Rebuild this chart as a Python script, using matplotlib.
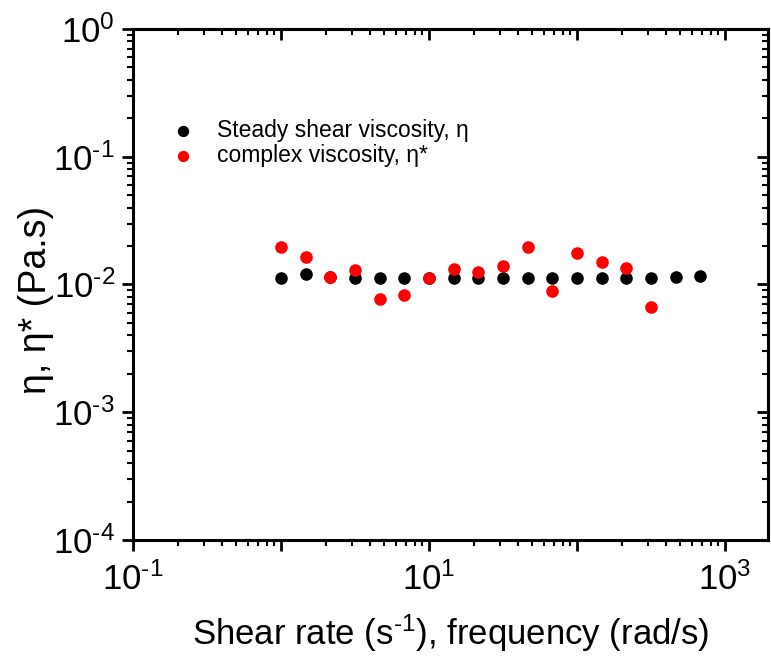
import math
import matplotlib
matplotlib.use("Agg")
import matplotlib.pyplot as plt
from matplotlib.ticker import LogLocator, FuncFormatter, NullFormatter

plt.rcParams['font.family'] = ['Liberation Sans', 'DejaVu Sans']
plt.rcParams['mathtext.fontset'] = 'custom'
plt.rcParams['mathtext.rm'] = 'Liberation Sans'
plt.rcParams['mathtext.it'] = 'Liberation Sans:italic'
plt.rcParams['mathtext.default'] = 'regular'

# Data
shear_rate = [1.0, 1.468, 2.154, 3.162, 4.642, 6.813, 10.0, 14.68, 21.54, 31.62,
              46.42, 68.13, 100.0, 146.8, 215.4, 316.2, 464.2, 681.3]
steady_eta = [0.0113, 0.0120, 0.0114, 0.0112, 0.0112, 0.0112, 0.0112, 0.0112, 0.0112,
              0.0112, 0.0112, 0.0112, 0.0113, 0.0112, 0.0112, 0.0113, 0.0114, 0.0117]
frequency = [1.0, 1.468, 2.154, 3.162, 4.642, 6.813, 10.0, 14.68, 21.54, 31.62,
             46.42, 68.13, 100.0, 146.8, 215.4, 316.2]
complex_eta = [0.0198, 0.0163, 0.0115, 0.0130, 0.00774, 0.00823, 0.0112, 0.0131, 0.0125,
               0.0140, 0.0198, 0.00889, 0.0175, 0.0151, 0.0134, 0.0067]


def sup(e):
    if e < 0:
        return r'$10^{\text{-%d}}$' % (-e)
    return r'$10^{%d}$' % e


fig = plt.figure(figsize=(7.71, 6.57), dpi=100)
ax = fig.add_axes([0.1725, 0.178, 0.8235, 0.778])

ax.scatter(shear_rate, steady_eta, s=82, color='black', label='Steady shear viscosity, η',
           zorder=3, linewidths=0)
ax.scatter(frequency, complex_eta, s=82, color='#ff0000', label='complex viscosity, η*',
           zorder=4, linewidths=0)

ax.set_xscale('log')
ax.set_yscale('log')
ax.set_xlim(0.1, 1950)
ax.set_ylim(1e-4, 1)

ax.xaxis.set_major_locator(LogLocator(base=10, numticks=20))
ax.xaxis.set_minor_locator(LogLocator(base=10, subs=range(2, 10), numticks=20))


def xfmt(v, pos):
    e = int(round(math.log10(v)))
    if e % 2 == 0:
        return ''
    return sup(e)


ax.xaxis.set_major_formatter(FuncFormatter(xfmt))
ax.xaxis.set_minor_formatter(NullFormatter())

ax.yaxis.set_major_locator(LogLocator(base=10, numticks=20))
ax.yaxis.set_minor_locator(LogLocator(base=10, subs=range(2, 10), numticks=20))
ax.yaxis.set_major_formatter(FuncFormatter(lambda v, p: sup(int(round(math.log10(v))))))
ax.yaxis.set_minor_formatter(NullFormatter())

for s in ax.spines.values():
    s.set_linewidth(2.2)

ax.tick_params(which='major', direction='out', length=8, width=2, labelsize=25, pad=5)
ax.tick_params(axis='x', which='major', pad=8)
ax.tick_params(which='minor', direction='out', length=4, width=1.5)

# mirrored inward ticks on top and right
secx = ax.secondary_xaxis('top')
secx.xaxis.set_major_locator(LogLocator(base=10, numticks=20))
secx.xaxis.set_minor_locator(LogLocator(base=10, subs=range(2, 10), numticks=20))
secx.tick_params(which='major', direction='in', length=8, width=2, labeltop=False)
secx.tick_params(which='minor', direction='in', length=4, width=1.5)
secx.spines['top'].set_linewidth(2.2)

secy = ax.secondary_yaxis('right')
secy.yaxis.set_major_locator(LogLocator(base=10, numticks=20))
secy.yaxis.set_minor_locator(LogLocator(base=10, subs=range(2, 10), numticks=20))
secy.tick_params(which='major', direction='in', length=8, width=2, labelright=False)
secy.tick_params(which='minor', direction='in', length=4, width=1.5)
secy.spines['right'].set_linewidth(2.2)

ax.set_xlabel(r'Shear rate (s$^{\text{-1}}$), frequency (rad/s)', fontsize=25, labelpad=11)
ax.set_ylabel('η, η* (Pa.s)', fontsize=27)
ax.yaxis.set_label_coords(-0.125, 0.47)

ax.legend(loc='upper left', bbox_to_anchor=(0.046, 0.842), frameon=False, fontsize=16.5,
          handlelength=1.0, handletextpad=0.98, labelspacing=0.1, borderaxespad=0,
          markerscale=0.9)

fig.savefig('out.png', dpi=100)
